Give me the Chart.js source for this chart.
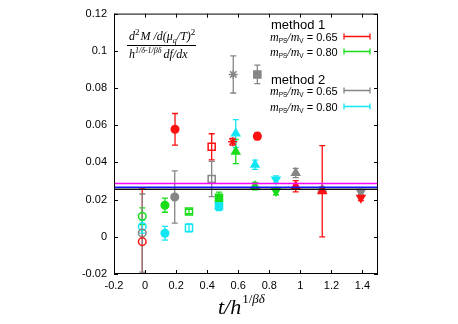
<!DOCTYPE html>
<html>
<head>
<meta charset="utf-8">
<script src="https://cdn.jsdelivr.net/npm/chart.js@4.4.0/dist/chart.umd.min.js"></script>
<style>
  html, body { margin: 0; padding: 0; background: #fff; }
</style>
</head>
<body>
<canvas id="chart" width="458" height="324"></canvas>
<script>
// tick labels
const xTicks = [-0.2, 0, 0.2, 0.4, 0.6, 0.8, 1, 1.2, 1.4];
const yTicks = [-0.02, 0, 0.02, 0.04, 0.06, 0.08, 0.1, 0.12];

// method 1, mPS/mV = 0.65
const m1LowX   = [-0.018, 0.193, 0.429, 0.564, 0.723, 0.970, 1.141, 1.390];
const m1LowY   = [-0.0026, 0.0578, 0.0484, 0.0511, 0.0541, 0.0272, 0.0245, 0.0210];
const m1LowErr = [0.0284, 0.0085, 0.0070, 0.0018, 0.0018, 0.0030, 0.0245, 0.0015];

// method 1, mPS/mV = 0.80
const m1HighX   = [-0.018, 0.128, 0.283, 0.476, 0.584, 0.708, 0.843];
const m1HighY   = [0.0110, 0.0170, 0.0136, 0.0210, 0.0458, 0.0272, 0.0246];
const m1HighErr = [0.0045, 0.0038, 0.0012, 0.0030, 0.0065, 0.0020, 0.0020];

// method 2, mPS/mV = 0.65
const m2LowX   = [-0.018, 0.191, 0.429, 0.568, 0.723, 0.970, 1.141, 1.390];
const m2LowY   = [0.0020, 0.0214, 0.0311, 0.0873, 0.0873, 0.0343, 0.0255, 0.0240];
const m2LowErr = [0.0210, 0.0140, 0.0095, 0.0100, 0.0050, 0.0025, 0.0015, 0.0015];

// method 2, mPS/mV = 0.80
const m2HighX   = [-0.018, 0.128, 0.283, 0.476, 0.584, 0.708, 0.843];
const m2HighY   = [0.0055, 0.0019, 0.0048, 0.0166, 0.0555, 0.0387, 0.0308];
const m2HighErr = [0.0035, 0.0037, 0.0022, 0.0025, 0.0075, 0.0025, 0.0020];

// horizontal reference lines
const refLevels = [0.0287, 0.0267, 0.0256];

// symbols: oc open circle, fc filled circle, os open square, fs filled square,
// st star, ft filled triangle, fd filled triangle down
const m1LowMarks  = ['oc', 'fc', 'os', 'st', 'fc', 'ft', 'ft', 'fd'];
const m1HighMarks = ['oc', 'fc', 'os', 'fs', 'ft', 'ft', 'fd'];
const m2LowMarks  = ['oc', 'fc', 'os', 'st', 'fs', 'ft', 'ft', 'fd'];
const m2HighMarks = ['oc', 'fc', 'os', 'fs', 'ft', 'ft', 'fd'];

const RED = '#ff1010';
const GREEN = '#19dd19';
const GRAY = '#858585';
const CYAN = '#12e6f2';
const refColors = ['#ff00ff', '#1010ff', '#111111'];

function markStyle(code) {
  if (code === 'oc' || code === 'fc') return { style: 'circle', r: 3.8, rot: 0 };
  if (code === 'os' || code === 'fs') return { style: 'rect', r: 5, rot: 0 };
  if (code === 'st') return { style: 'star', r: 4.5, rot: 0 };
  if (code === 'fd') return { style: 'triangle', r: 4.6, rot: 180 };
  return { style: 'triangle', r: 4.6, rot: 0 };
}

function series(label, xs, ys, errs, marks, color) {
  return {
    type: 'scatter',
    label: label,
    order: 1,
    data: xs.map((x, i) => ({ x: x, y: ys[i] })),
    errs: errs,
    pointStyle: marks.map(m => markStyle(m).style),
    pointRadius: marks.map(m => markStyle(m).r),
    pointHoverRadius: marks.map(m => markStyle(m).r),
    pointRotation: marks.map(m => markStyle(m).rot),
    pointBackgroundColor: marks.map(m => m[0] === 'o' ? 'rgba(255,255,255,0)' : color),
    pointBorderColor: color,
    pointBorderWidth: 1.5,
    showLine: false
  };
}

const datasets = [
  series('m1 0.65', m1LowX, m1LowY, m1LowErr, m1LowMarks, RED),
  series('m1 0.80', m1HighX, m1HighY, m1HighErr, m1HighMarks, GREEN),
  series('m2 0.65', m2LowX, m2LowY, m2LowErr, m2LowMarks, GRAY),
  series('m2 0.80', m2HighX, m2HighY, m2HighErr, m2HighMarks, CYAN)
];

refLevels.forEach((v, i) => {
  datasets.push({
    type: 'line',
    label: 'ref' + i,
    order: 0,
    data: [{ x: -0.2, y: v }, { x: 1.5, y: v }],
    borderColor: refColors[i],
    borderWidth: 1.5,
    pointRadius: 0
  });
});

// draw text made of pieces with different fonts / offsets
function rich(ctx, x, y, parts) {
  let cx = x;
  parts.forEach(p => {
    ctx.font = p.f;
    ctx.fillText(p.t, cx, y + (p.dy || 0));
    cx += ctx.measureText(p.t).width + (p.sp || 0);
  });
  return cx;
}

const errorBars = {
  id: 'errorBars',
  beforeDatasetsDraw(chart) {
    const ctx = chart.ctx;
    const area = chart.chartArea;
    const yScale = chart.scales.y;
    ctx.save();
    ctx.beginPath();
    ctx.rect(area.left, area.top, area.right - area.left, area.bottom - area.top);
    ctx.clip();
    chart.data.datasets.forEach((ds, di) => {
      if (!ds.errs) return;
      const meta = chart.getDatasetMeta(di);
      ctx.strokeStyle = ds.pointBorderColor;
      ctx.lineWidth = 1.3;
      meta.data.forEach((pt, i) => {
        const v = ds.data[i].y;
        const top = yScale.getPixelForValue(v + ds.errs[i]);
        const bot = yScale.getPixelForValue(v - ds.errs[i]);
        ctx.beginPath();
        ctx.moveTo(pt.x, top);
        ctx.lineTo(pt.x, bot);
        ctx.moveTo(pt.x - 3, top);
        ctx.lineTo(pt.x + 3, top);
        ctx.moveTo(pt.x - 3, bot);
        ctx.lineTo(pt.x + 3, bot);
        ctx.stroke();
      });
    });
    ctx.restore();
  }
};

const decorations = {
  id: 'decorations',
  afterDraw(chart) {
    const ctx = chart.ctx;
    const a = chart.chartArea;
    const xs = chart.scales.x;
    const ys = chart.scales.y;
    ctx.save();

    // frame and inward ticks on all sides
    ctx.strokeStyle = '#000';
    ctx.lineWidth = 1;
    ctx.strokeRect(a.left + 0.5, a.top + 0.5, a.right - a.left - 1, a.bottom - a.top - 1);
    ctx.beginPath();
    xTicks.forEach(v => {
      const px = Math.round(xs.getPixelForValue(v)) + 0.5;
      ctx.moveTo(px, a.bottom); ctx.lineTo(px, a.bottom - 4);
      ctx.moveTo(px, a.top); ctx.lineTo(px, a.top + 4);
    });
    yTicks.forEach(v => {
      const py = Math.round(ys.getPixelForValue(v)) + 0.5;
      ctx.moveTo(a.left, py); ctx.lineTo(a.left + 4, py);
      ctx.moveTo(a.right, py); ctx.lineTo(a.right - 4, py);
    });
    ctx.stroke();

    ctx.fillStyle = '#000';
    ctx.textAlign = 'left';
    ctx.textBaseline = 'alphabetic';

    // fraction label
    const it = 'italic 12px "Liberation Serif"';
    const sup = '9px "Liberation Serif"';
    const supIt = 'italic 8px "Liberation Serif"';
    rich(ctx, 129, 40, [
      { t: 'd', f: it }, { t: '2', f: sup, dy: -5, sp: 1 },
      { t: 'M /d(', f: it }, { t: 'μ', f: it },
      { t: 'q', f: supIt, dy: 3 }, { t: '/T)', f: it },
      { t: '2', f: sup, dy: -5 }
    ]);
    ctx.beginPath();
    ctx.moveTo(127, 45.5);
    ctx.lineTo(196, 45.5);
    ctx.stroke();
    rich(ctx, 129, 58, [
      { t: 'h', f: it }, { t: '1/δ-1/βδ', f: supIt, dy: -5, sp: 2 },
      { t: 'df/dx', f: it }
    ]);

    // legend
    const sans = '13px "Liberation Sans"';
    const rowIt = 'italic 12px "Liberation Serif"';
    const sub = '6.5px "Liberation Sans"';
    const rowNum = '11px "Liberation Sans"';
    const rows = [
      { y: 41, txt: ' = 0.65', color: RED },
      { y: 56, txt: ' = 0.80', color: GREEN },
      { y: 95, txt: ' = 0.65', color: GRAY },
      { y: 111, txt: ' = 0.80', color: CYAN }
    ];
    ctx.font = sans;
    ctx.fillText('method 1', 271, 29);
    ctx.fillText('method 2', 271, 84);
    rows.forEach(r => {
      ctx.fillStyle = '#000';
      rich(ctx, 270, r.y, [
        { t: 'm', f: rowIt }, { t: 'PS', f: sub, dy: 2 },
        { t: '/', f: rowIt }, { t: 'm', f: rowIt }, { t: 'V', f: sub, dy: 2 },
        { t: r.txt, f: rowNum }
      ]);
      const cy = r.y - 4.5;
      ctx.strokeStyle = r.color;
      ctx.lineWidth = 1.3;
      ctx.beginPath();
      ctx.moveTo(344, cy); ctx.lineTo(370, cy);
      ctx.moveTo(344, cy - 3); ctx.lineTo(344, cy + 3);
      ctx.moveTo(370, cy - 3); ctx.lineTo(370, cy + 3);
      ctx.stroke();
    });

    // x axis title
    ctx.fillStyle = '#000';
    rich(ctx, 218, 314, [
      { t: 't/h', f: 'italic 22px "Liberation Serif"', sp: 1 },
      { t: '1/', f: '13px "Liberation Serif"', dy: -11 },
      { t: 'βδ', f: 'italic 13px "Liberation Serif"', dy: -11 }
    ]);

    ctx.restore();
  }
};

const fmt = v => String(Number(v.toFixed(2)));

new Chart(document.getElementById('chart').getContext('2d'), {
  type: 'scatter',
  data: { datasets: datasets },
  options: {
    responsive: false,
    animation: false,
    layout: { padding: { left: 0, right: 80, top: 10, bottom: 0 } },
    plugins: {
      legend: { display: false },
      tooltip: { enabled: false }
    },
    scales: {
      x: {
        type: 'linear',
        min: -0.2,
        max: 1.5,
        grid: { display: false, drawTicks: false },
        border: { display: false },
        afterBuildTicks: s => { s.ticks = xTicks.map(v => ({ value: v })); },
        afterFit: s => { s.height = 50; },
        ticks: {
          padding: 5,
          maxRotation: 0,
          autoSkip: false,
          color: '#000',
          font: { family: "'Liberation Sans', sans-serif", size: 11 },
          callback: v => fmt(v)
        }
      },
      y: {
        type: 'linear',
        min: -0.02,
        max: 0.12,
        grid: { display: false, drawTicks: false },
        border: { display: false },
        afterBuildTicks: s => { s.ticks = yTicks.map(v => ({ value: v })); },
        afterFit: s => { s.width = 114; },
        ticks: {
          padding: 7,
          autoSkip: false,
          color: '#000',
          font: { family: "'Liberation Sans', sans-serif", size: 11 },
          callback: v => fmt(v)
        }
      }
    }
  },
  plugins: [errorBars, decorations]
});
</script>
</body>
</html>
